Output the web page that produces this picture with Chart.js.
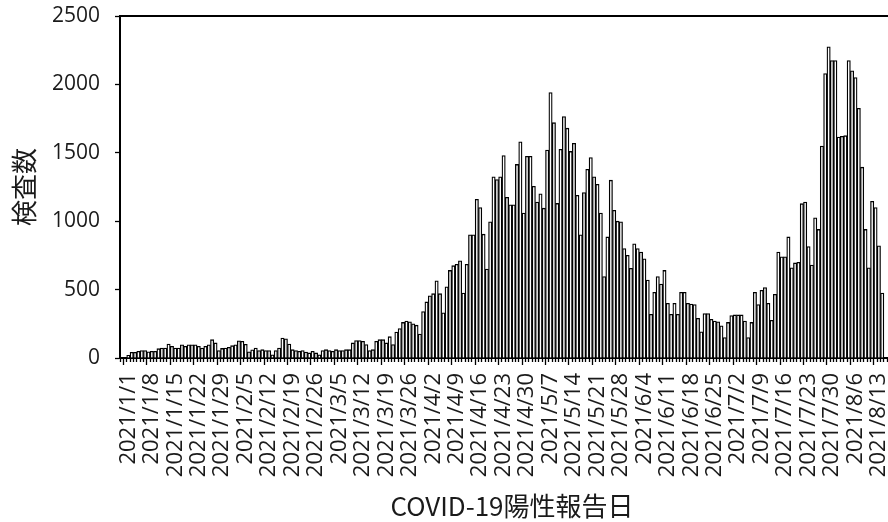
<!DOCTYPE html>
<html>
<head>
<meta charset="utf-8">
<script src="https://cdn.jsdelivr.net/npm/chart.js@4"></script>
<style>
html,body{margin:0;padding:0;background:#fff;width:888px;height:522px;overflow:hidden}
#wrap{position:relative;width:888px;height:522px;overflow:hidden}
#c{position:absolute;left:0;top:0}
</style>
</head>
<body>
<div id="wrap"><canvas id="c" width="904" height="522"></canvas></div>
<script>
// categories: one per day, starting 2020/12/30
const startYear = 2020, startMonth = 12, startDay = 30;
const categoryCount = 234;
// first labelled category index and label interval (days)
const firstLabelIndex = 2;
const labelInterval = 7;

// daily counts (2020/12/30 ... 2021/8/20); null = no bar
const leadDays = [null, null];
const janCounts = [20, 42, 42, 49, 54, 54, 45, 49, 49, 68, 73, 73, 102, 85, 73, 73, 97, 85, 97, 97, 97, 85, 73, 85, 97, 134, 110, 54, 70, 73, 78];
const febCounts = [90, 97, 126, 122, 100, 45, 60, 73, 54, 61, 54, 54, 24, 54, 73, 146, 140, 102, 61, 54, 49, 54, 44, 37, 49, 37, 24, 54];
const marCounts = [61, 54, 49, 61, 54, 54, 61, 61, 110, 127, 127, 122, 98, 54, 61, 122, 134, 134, 110, 156, 98, 190, 215, 260, 270, 265, 250, 240, 175, 340, 410];
const aprCounts = [455, 470, 565, 470, 330, 520, 640, 675, 685, 710, 475, 685, 900, 900, 1160, 1100, 905, 650, 995, 1325, 1305, 1325, 1480, 1175, 1120, 1120, 1415, 1580, 1060, 1475];
const mayCounts = [1475, 1255, 1140, 1200, 1095, 1520, 1940, 1720, 1130, 1525, 1765, 1680, 1510, 1570, 1190, 900, 1210, 1380, 1465, 1325, 1270, 1060, 595, 885, 1300, 1080, 1000, 995, 800, 750, 655];
const junCounts = [835, 800, 775, 725, 570, 320, 480, 595, 540, 640, 400, 320, 400, 320, 480, 480, 400, 395, 390, 290, 192, 325, 325, 283, 270, 265, 235, 150, 260, 310];
const julCounts = [315, 315, 315, 270, 150, 260, 480, 390, 495, 515, 400, 275, 465, 775, 740, 740, 885, 660, 695, 700, 1128, 1140, 815, 680, 1025, 940, 1550, 2080, 2275, 2175, 2175];
const augCounts = [1615, 1620, 1625, 2175, 2100, 2050, 1825, 1395, 940, 660, 1145, 1100, 820, 475, null, null, null, null, null, null];

const yTicks = [0, 500, 1000, 1500, 2000, 2500];

const counts = [].concat(leadDays, janCounts, febCounts, marCounts, aprCounts, mayCounts, junCounts, julCounts, augCounts);

const labels = [];
{
  const d = new Date(startYear, startMonth - 1, startDay);
  for (let i = 0; i < categoryCount; i++) {
    labels.push(d.getFullYear() + '/' + (d.getMonth() + 1) + '/' + d.getDate());
    d.setDate(d.getDate() + 1);
  }
}

const xTickFont = {family: "'Open Sans', 'Noto Sans CJK JP', sans-serif", size: 22};
const yTickFont = {family: "'Open Sans', 'Noto Sans CJK JP', sans-serif", size: 21};
const titleFont = {family: "'Noto Sans CJK JP', sans-serif", size: 26};
const textColor = '#1a1a1a';

new Chart(document.getElementById('c'), {
  type: 'bar',
  data: {
    labels: labels,
    datasets: [{
      data: counts,
      backgroundColor: '#ffffff',
      borderColor: '#000000',
      borderWidth: 1.3,
      barPercentage: 1,
      categoryPercentage: 1
    }]
  },
  options: {
    responsive: false,
    animation: false,
    layout: {padding: {top: 16, right: 0, bottom: 0, left: 0}},
    plugins: {legend: {display: false}, tooltip: {enabled: false}},
    scales: {
      x: {
        type: 'category',
        offset: true,
        grid: {
          display: true,
          drawOnChartArea: false,
          drawTicks: true,
          tickLength: 7,
          tickWidth: 1.3,
          tickColor: '#000',
          tickBorderDash: (ctx) => (ctx.index % labelInterval === 1 ? [] : [3, 20])
        },
        border: {display: true, color: '#000', width: 2},
        ticks: {
          autoSkip: false,
          minRotation: 90,
          maxRotation: 90,
          padding: 8,
          color: textColor,
          font: xTickFont,
          callback: (v, i) => ((i - firstLabelIndex) % labelInterval === 0 && i >= firstLabelIndex ? labels[i] : '')
        },
        title: {
          display: true,
          text: 'COVID-19陽性報告日',
          color: textColor,
          font: titleFont,
          padding: {top: 0, bottom: 0}
        },
        afterFit: (s) => { s.height = 522 - 358; s.paddingLeft = 0; s.paddingRight = 0; }
      },
      xTop: {
        type: 'category',
        position: 'top',
        display: true,
        grid: {display: false},
        ticks: {display: false},
        border: {display: true, color: '#000', width: 2},
        afterFit: (s) => { s.height = 0; s.paddingLeft = 0; s.paddingRight = 0; }
      },
      y: {
        min: yTicks[0],
        max: yTicks[yTicks.length - 1],
        afterBuildTicks: (s) => { s.ticks = yTicks.map(v => ({value: v})); },
        grid: {display: true, drawOnChartArea: false, drawTicks: true, tickLength: 5, tickColor: '#000', tickWidth: 1.3},
        border: {display: true, color: '#000', width: 2},
        ticks: {padding: 15, color: textColor, font: yTickFont, callback: (v) => String(v)},
        title: {
          display: true,
          text: '検査数',
          color: textColor,
          font: titleFont,
          padding: {top: 9, bottom: 0}
        },
        afterFit: (s) => { s.width = 120; s.paddingTop = 0; s.paddingBottom = 0; }
      }
    }
  }
});
</script>
</body>
</html>
